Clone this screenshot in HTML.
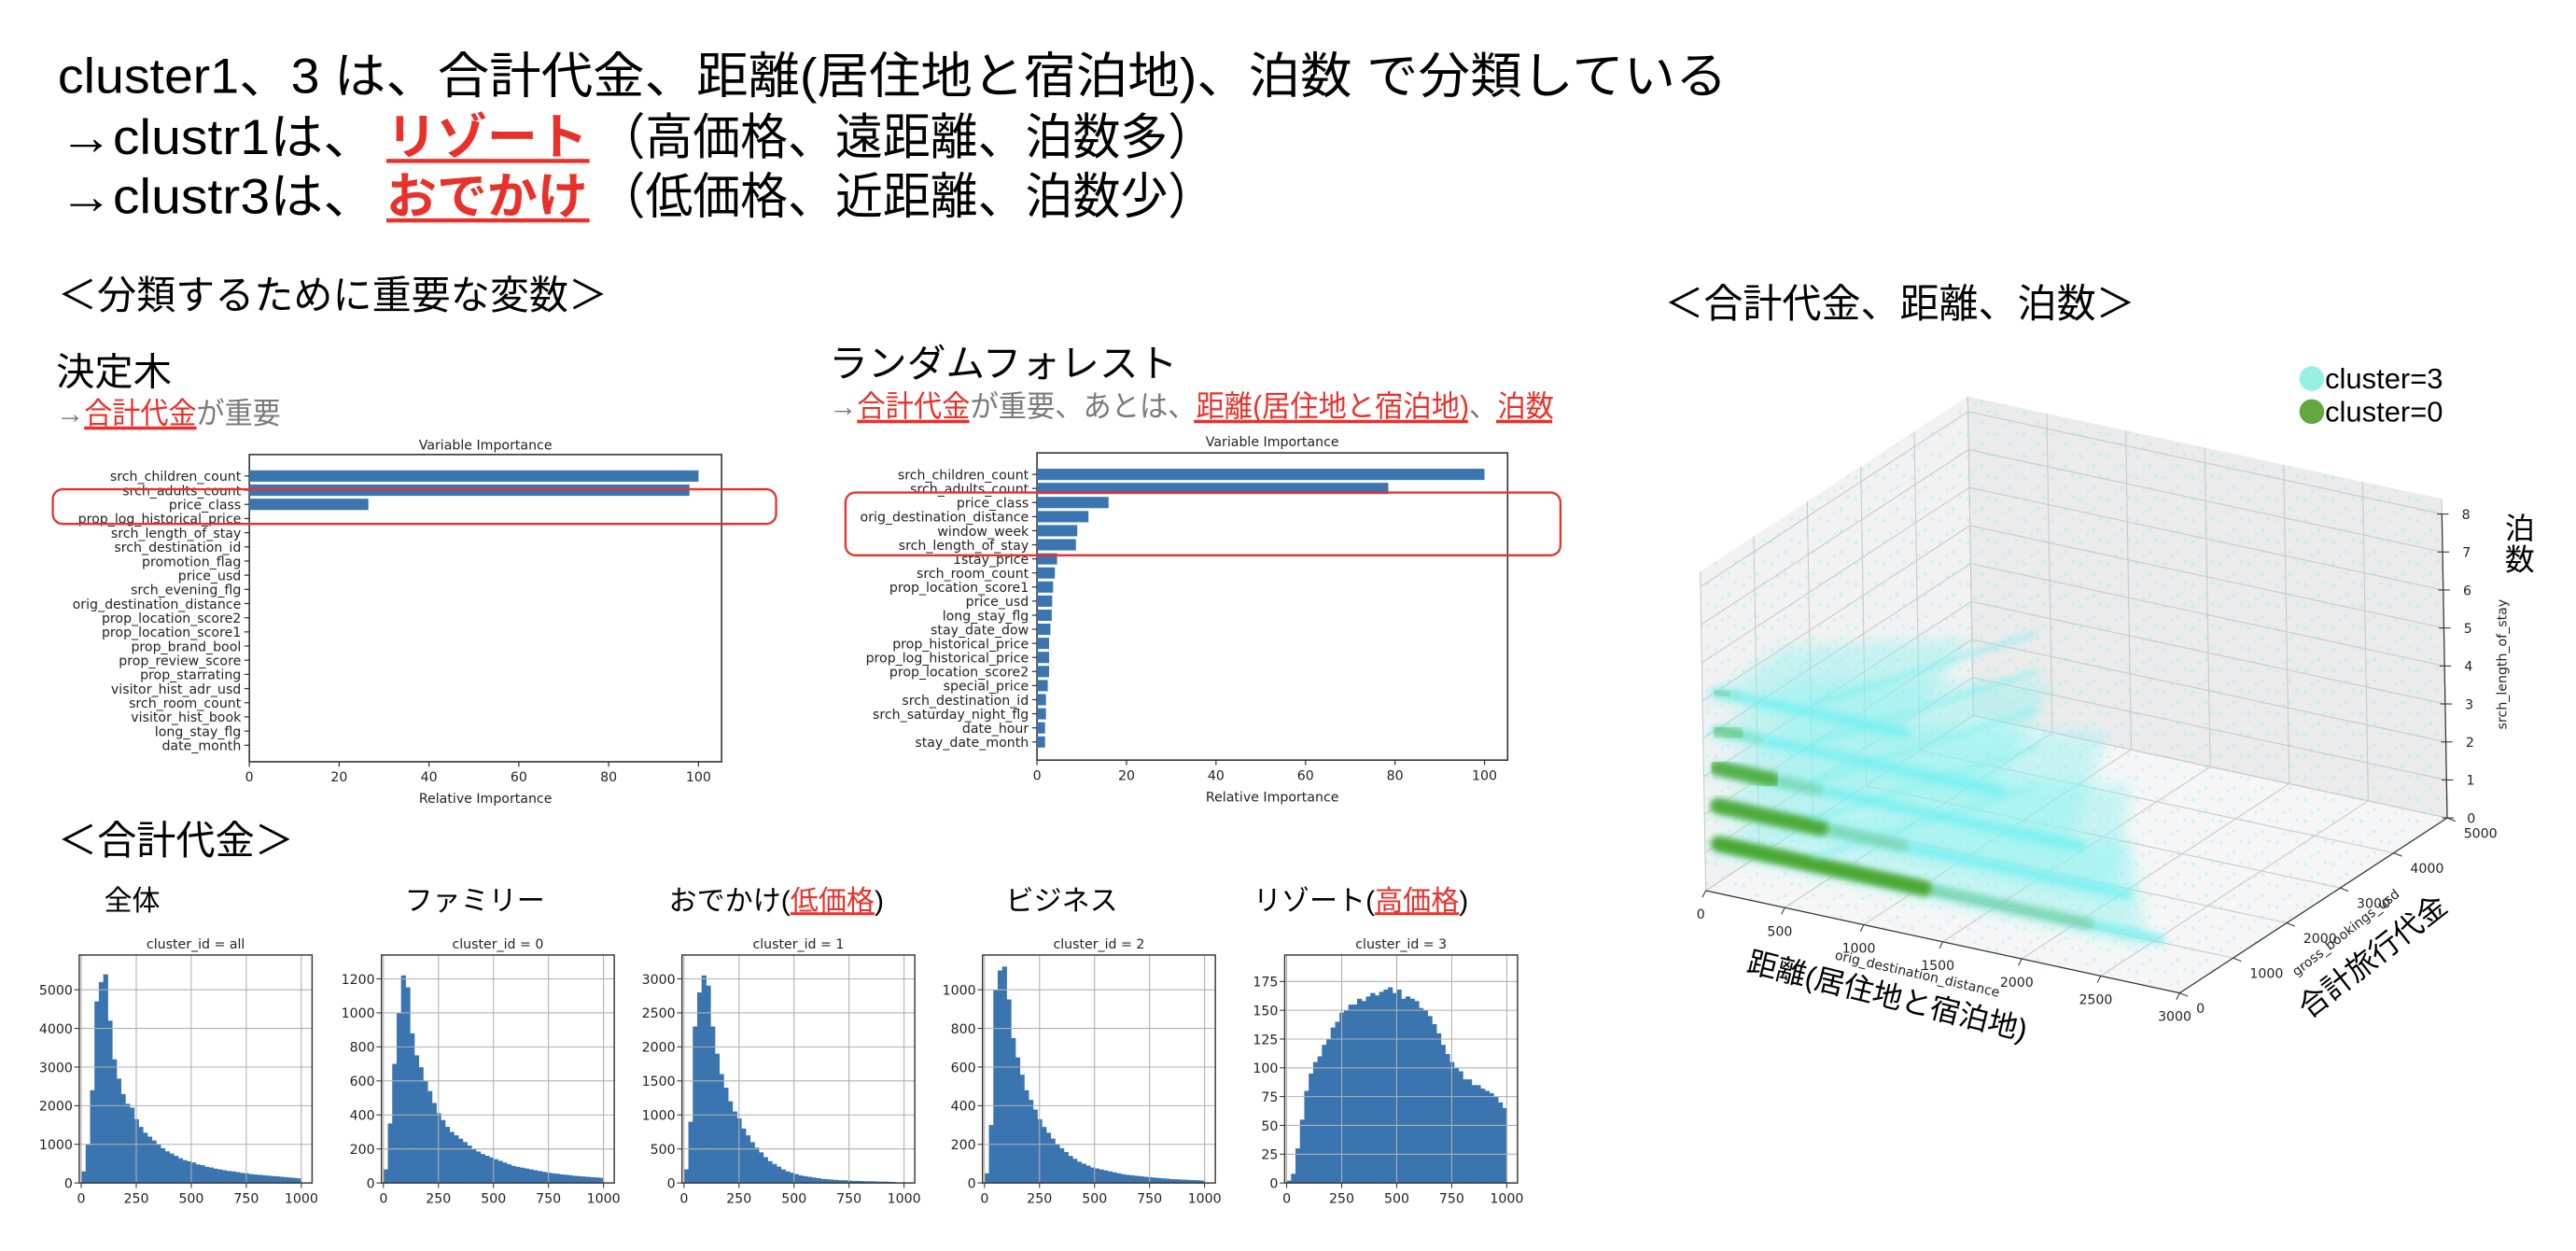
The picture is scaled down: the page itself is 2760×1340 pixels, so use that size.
<!DOCTYPE html>
<html><head><meta charset="utf-8">
<style>
html,body{margin:0;padding:0;background:#fff;}
svg{display:block;}
text{font-family:"Liberation Sans","Noto Sans CJK JP",sans-serif;}
.tk{font-family:"DejaVu Sans","Liberation Sans",sans-serif;font-size:8px;fill:#222;}
</style></head>
<body>
<svg id="root" xmlns="http://www.w3.org/2000/svg" width="2760" height="1340" viewBox="0 0 1560 757">
<defs>
<filter id="blur1" x="-10%" y="-50%" width="120%" height="200%"><feGaussianBlur stdDeviation="2"/></filter>
<filter id="blur2" x="-10%" y="-50%" width="120%" height="200%"><feGaussianBlur stdDeviation="4"/></filter>
<pattern id="dots" width="17" height="13" patternUnits="userSpaceOnUse">
<circle cx="2" cy="3" r="1.1" fill="#7ff0ee"/><circle cx="10" cy="9" r="1.1" fill="#7ff0ee"/><circle cx="14" cy="2" r="1" fill="#7ff0ee"/><circle cx="6" cy="11" r="0.9" fill="#7ff0ee"/>
</pattern>
</defs>
<g>
<text x="35" y="56" font-size="30" textLength="1011" lengthAdjust="spacingAndGlyphs">cluster1、3 は、合計代金、距離(居住地と宿泊地)、泊数 で分類している</text>
<text x="36" y="93" font-size="30" textLength="192" lengthAdjust="spacingAndGlyphs">→clustr1は、</text>
<text x="234" y="93" font-size="30" font-weight="bold" fill="#e8312a" textLength="122" lengthAdjust="spacingAndGlyphs">リゾート</text>
<rect x="234" y="96" width="123" height="2.5" fill="#e8312a"/>
<text x="362" y="93" font-size="30" textLength="374" lengthAdjust="spacingAndGlyphs">（高価格、遠距離、泊数多）</text>
<text x="36" y="129" font-size="30" textLength="192" lengthAdjust="spacingAndGlyphs">→clustr3は、</text>
<text x="234" y="129" font-size="30" font-weight="bold" fill="#e8312a" textLength="122" lengthAdjust="spacingAndGlyphs">おでかけ</text>
<rect x="234" y="132" width="123" height="2.5" fill="#e8312a"/>
<text x="362" y="129" font-size="30" textLength="374" lengthAdjust="spacingAndGlyphs">（低価格、近距離、泊数少）</text>
<text x="35" y="187" font-size="24" textLength="333" lengthAdjust="spacingAndGlyphs">＜分類するために重要な変数＞</text>
<text x="1008" y="192" font-size="24" textLength="285" lengthAdjust="spacingAndGlyphs">＜合計代金、距離、泊数＞</text>
<text x="34" y="233" font-size="23" textLength="70" lengthAdjust="spacingAndGlyphs">決定木</text>
<text x="34" y="256" font-size="18" fill="#7a7a7a" textLength="136" lengthAdjust="spacingAndGlyphs">→<tspan fill="#e8312a">合計代金</tspan>が重要</text>
<rect x="51" y="258" width="68" height="2" fill="#e8312a"/>
<text x="502" y="228" font-size="23" textLength="211" lengthAdjust="spacingAndGlyphs">ランダムフォレスト</text>
<text x="502" y="252" font-size="18" fill="#7a7a7a" textLength="439" lengthAdjust="spacingAndGlyphs">→<tspan fill="#e8312a">合計代金</tspan>が重要、あとは、<tspan fill="#e8312a">距離(居住地と宿泊地)</tspan>、<tspan fill="#e8312a">泊数</tspan></text>
<rect x="519" y="254" width="68" height="2" fill="#e8312a"/>
<rect x="723" y="254" width="166" height="2" fill="#e8312a"/>
<rect x="906" y="254" width="34" height="2" fill="#e8312a"/>
<text x="35" y="517" font-size="24" textLength="143" lengthAdjust="spacingAndGlyphs">＜合計代金＞</text>
</g>
<g id="dt"></g>
<g id="rf"></g>
<g id="hists"></g>
<g id="p3d"></g>
</svg>
<script>
const NS='http://www.w3.org/2000/svg';
function mk(parent,tag,attrs,txt){const e=document.createElementNS(NS,tag);for(const k in attrs)e.setAttribute(k,attrs[k]);if(txt!==undefined)e.textContent=txt;parent.appendChild(e);return e;}

// ---- Variable importance data ----
const dtLabels=['srch_children_count','srch_adults_count','price_class','prop_log_historical_price','srch_length_of_stay','srch_destination_id','promotion_flag','price_usd','srch_evening_flg','orig_destination_distance','prop_location_score2','prop_location_score1','prop_brand_bool','prop_review_score','prop_starrating','visitor_hist_adr_usd','srch_room_count','visitor_hist_book','long_stay_flg','date_month'];
const dtValues=[100,98,26.5,0,0,0,0,0,0,0,0,0,0,0,0,0,0,0,0,0];
const rfLabels=['srch_children_count','srch_adults_count','price_class','orig_destination_distance','window_week','srch_length_of_stay','1stay_price','srch_room_count','prop_location_score1','price_usd','long_stay_flg','stay_date_dow','prop_historical_price','prop_log_historical_price','prop_location_score2','special_price','srch_destination_id','srch_saturday_night_flg','date_hour','stay_date_month'];
const rfValues=[100,78.5,16,11.5,9,8.7,4.5,4,3.6,3.4,3.3,3,2.7,2.7,2.7,2.4,2,2,1.8,1.8];
const impTicks=[0,20,40,60,80,100];

function barh(g,name,labels,values,c){
  const sx=v=>c.v0+(c.v100-c.v0)*v/100;
  const sp=(c.rN-c.r1)/(labels.length-1);
  const t=mk(g,'text',{x:(c.x0+c.x1)/2,y:c.ty,'font-size':9.5,'text-anchor':'middle',class:'tk'},'Variable Importance');
  
  
  const fr=mk(g,'rect',{x:c.x0,y:c.y0,width:c.x1-c.x0,height:c.y1-c.y0,fill:'#fff',stroke:'#333','stroke-width':0.9});
  
  
  labels.forEach((l,i)=>{
    const y=c.r1+i*sp;
    if(values[i]>0){
      const b=mk(g,'rect',{x:sx(0),y:y-sp*0.4,width:sx(values[i])-sx(0),height:sp*0.8,fill:'#3a75b0'});
      
      
    }
    mk(g,'line',{x1:c.x0-3,x2:c.x0,y1:y,y2:y,stroke:'#333','stroke-width':0.7});
    const lt=mk(g,'text',{x:c.x0-5,y:y+3,'text-anchor':'end',class:'tk','font-size':8.3},l);
    
    
  });
  impTicks.forEach(v=>{
    mk(g,'line',{x1:sx(v),x2:sx(v),y1:c.y1,y2:c.y1+3,stroke:'#333','stroke-width':0.7});
    const tt=mk(g,'text',{x:sx(v),y:c.y1+12,'text-anchor':'middle',class:'tk','font-size':8.5},String(v));
    
    
  });
  const xl=mk(g,'text',{x:(c.x0+c.x1)/2,y:c.y1+25,'text-anchor':'middle',class:'tk','font-size':8.5},'Relative Importance');
  
  
  const hb=mk(g,'rect',{x:c.hx0,y:c.hy0,width:c.hx1-c.hx0,height:c.hy1-c.hy0,rx:6,fill:'none',stroke:'#e8312a','stroke-width':1.3});
  
  
}
barh(document.getElementById('dt'),'dt',dtLabels,dtValues,{x0:151,x1:437,y0:275,y1:461,v0:151,v100:423,r1:288,rN:451,ty:272,hx0:32,hx1:470,hy0:296,hy1:317});
barh(document.getElementById('rf'),'rf',rfLabels,rfValues,{x0:628,x1:913,y0:274,y1:460,v0:628,v100:899,r1:287,rN:449,ty:270,hx0:512,hx1:945,hy0:298,hy1:336});

// ---- Histogram data (bins of width 20, 0..1000) ----
const histNames=['all','0','1','2','3'];
const histSub=['全体','ファミリー','おでかけ(低価格)','ビジネス','リゾート(高価格)'];
const histAll=[300,1000,2400,4700,5200,5400,4200,3200,2700,2300,2050,1950,1650,1450,1300,1200,1100,1000,900,820,760,700,640,590,560,530,480,460,420,400,370,350,330,310,300,280,260,250,230,220,210,200,190,180,170,160,150,140,130,120];
const hist0=[80,350,700,1000,1220,1150,880,750,680,600,540,470,410,370,330,300,280,260,240,220,200,185,170,160,150,140,130,120,110,100,95,90,85,80,75,70,65,60,57,54,50,48,45,42,40,38,36,34,32,30];
const hist1=[200,900,2300,2800,3050,2900,2300,1900,1600,1400,1200,1050,950,800,700,600,520,450,380,320,280,240,200,170,150,130,110,100,90,80,70,60,55,50,45,40,40,35,30,30,28,25,25,22,20,20,18,15,0,0];
const hist2=[50,300,1000,1100,1120,950,750,650,560,480,430,380,330,290,260,230,200,180,160,140,125,110,100,90,80,75,70,65,60,55,50,45,42,40,37,35,32,30,28,26,24,22,20,19,18,17,16,15,14,12];
const hist3=[2,8,30,55,80,95,105,110,120,125,135,140,148,150,155,155,160,158,162,165,163,166,168,170,165,168,160,162,160,158,152,150,145,138,130,120,112,105,100,97,90,90,85,85,82,80,78,75,70,65];
const histYMax=[5900,1340,3350,1180,198];
const yTicksAll=[0,1000,2000,3000,4000,5000];
const yTicks0=[0,200,400,600,800,1000,1200];
const yTicks1=[0,500,1000,1500,2000,2500,3000];
const yTicks2=[0,200,400,600,800,1000];
const yTicks3=[0,25,50,75,100,125,150,175];
const histXTicks=[0,250,500,750,1000];
const binWidth=20;
const histSeries=[histAll,hist0,hist1,hist2,hist3];
const histYTicks=[yTicksAll,yTicks0,yTicks1,yTicks2,yTicks3];
const panelLefts=[48,231,413,595,778];
const subX=[63,245,405,609,759];
const hg=document.getElementById('hists');
histSeries.forEach((vals,p)=>{
  const L=panelLefts[p],R=L+141,T=578,B=716;
  const xmin=-9,xmax=1049;
  const sx=v=>L+(v-xmin)/(xmax-xmin)*(R-L);
  const sy=v=>B-v/histYMax[p]*(B-T);
  const g=mk(hg,'g',{});
  
  
  const st=mk(g,'text',{x:subX[p],y:551,'font-size':17},'');
  
  
  const s=histSub[p];const m=s.match(/^(.*)\((.*)\)$/);
  if(m){mk(st,'tspan',{},m[1]+'(');mk(st,'tspan',{fill:'#e8312a','text-decoration':'underline'},m[2]);mk(st,'tspan',{},')');}else{st.textContent=s;}
  const t=mk(g,'text',{x:(L+R)/2,y:T-4,'text-anchor':'middle',class:'tk','font-size':9.5},'cluster_id = '+histNames[p]);
  
  
  vals.forEach((v,i)=>{
    if(v<=0)return;
    const b=mk(g,'rect',{x:sx(i*binWidth),y:sy(v),width:sx((i+1)*binWidth)-sx(i*binWidth)+0.3,height:B-sy(v),fill:'#3a75b0'});
    
    
  });
  histXTicks.forEach(v=>{
    mk(g,'line',{x1:sx(v),x2:sx(v),y1:T,y2:B,stroke:'#b0b0b0','stroke-width':0.6});
    mk(g,'line',{x1:sx(v),x2:sx(v),y1:B,y2:B+3,stroke:'#333','stroke-width':0.6});
    const tt=mk(g,'text',{x:sx(v),y:B+12,'text-anchor':'middle',class:'tk','font-size':8.5},String(v));
    
    
  });
  histYTicks[p].forEach(v=>{
    mk(g,'line',{x1:L,x2:R,y1:sy(v),y2:sy(v),stroke:'#b0b0b0','stroke-width':0.6});
    mk(g,'line',{x1:L-3,x2:L,y1:sy(v),y2:sy(v),stroke:'#333','stroke-width':0.6});
    const tt=mk(g,'text',{x:L-4,y:sy(v)+3,'text-anchor':'end',class:'tk','font-size':8.5},String(v));
    
    
  });
  const fr=mk(g,'rect',{x:L,y:T,width:R-L,height:B-T,fill:'none',stroke:'#333','stroke-width':0.8});
  
  
});

// ---- 3D scatter (projected) ----
const distTicks=[0,500,1000,1500,2000,2500,3000];
const bookTicks=[0,1000,2000,3000,4000,5000];
const stayTicks=[0,1,2,3,4,5,6,7,8];
const layerZ=[1,2,3,4,5];
const layerGreenEnd=[1300,650,350,150,80];
const layerCyanEnd=[2800,2600,2300,1800,1200];
const layerSpread=[2200,2600,2800,2800,2600];
const layerGreenOpacity=[0.95,0.9,0.8,0.35,0.2];
const g3=document.getElementById('p3d');
function P(x,y,z){return [1033+x*287/3000+y*162/5000-z*0.4, 539+x*62/3000-y*106/5000-z*23];}
function poly(pts){return pts.map(p=>p.join(',')).join(' ');}
const zTop=8.4;
let e;
e=mk(g3,'polygon',{points:poly([P(0,0,0),P(0,5000,0),P(0,5000,zTop),P(0,0,zTop)]),fill:'#f2f2f2'});


e=mk(g3,'polygon',{points:poly([P(0,5000,0),P(3000,5000,0),P(3000,5000,zTop),P(0,5000,zTop)]),fill:'#ebebeb'});


e=mk(g3,'polygon',{points:poly([P(0,0,0),P(3000,0,0),P(3000,5000,0),P(0,5000,0)]),fill:'#f6f6f6'});


const gl={stroke:'#c8c8c8','stroke-width':0.6};
function ln(a,b,at){const q=Object.assign({x1:a[0],y1:a[1],x2:b[0],y2:b[1]},at);return mk(g3,'line',q);}
distTicks.forEach(v=>{ln(P(v,0,0),P(v,5000,0),gl);ln(P(v,5000,0),P(v,5000,zTop),gl);});
bookTicks.forEach(v=>{ln(P(0,v,0),P(3000,v,0),gl);ln(P(0,v,0),P(0,v,zTop),gl);});
stayTicks.forEach(v=>{ln(P(0,0,v),P(0,5000,v),gl);ln(P(0,5000,v),P(3000,5000,v),gl);});
// faint scattered cyan points over whole volume
e=mk(g3,'polygon',{points:poly([P(0,0,0),P(3000,0,0),P(3000,5000,0),P(3000,5000,zTop),P(0,5000,zTop),P(0,0,zTop)]),fill:'url(#dots)',opacity:0.32});


// scatter layers
layerZ.forEach((z,i)=>{
  e=mk(g3,'polygon',{points:poly([P(0,0,z),P(layerCyanEnd[i],0,z),P(layerCyanEnd[i]*0.7,layerSpread[i],z),P(0,layerSpread[i]*0.6,z)]),fill:'#8ff3f0',opacity:0.45,filter:'url(#blur2)'});
  
  
  const a=P(0,250,z),b=P(layerCyanEnd[i],250,z),c=P(layerGreenEnd[i],250,z),d=P(layerGreenEnd[i]*1.8,250,z);
  e=ln(a,b,{stroke:'#6ef0ee','stroke-width':6,opacity:0.7,filter:'url(#blur1)','stroke-linecap':'round'});
  
  
  e=ln(a,d,{stroke:'#7cc58a','stroke-width':7,opacity:0.6*layerGreenOpacity[i],filter:'url(#blur1)','stroke-linecap':'round'});
  
  
  e=ln(a,c,{stroke:'#4aa62a','stroke-width':9,opacity:layerGreenOpacity[i],filter:'url(#blur1)','stroke-linecap':'round'});
  
  
  e=ln(P(550,400,z),P(1100,3000,z),{stroke:'#6ef0ee','stroke-width':3,opacity:0.55,filter:'url(#blur1)'});
  
  
});
// axes lines and ticks
ln(P(0,0,0),P(3000,0,0),{stroke:'#333','stroke-width':0.7});
ln(P(3000,0,0),P(3000,5000,0),{stroke:'#333','stroke-width':0.7});
ln(P(3000,5000,0),P(3000,5000,8),{stroke:'#333','stroke-width':0.7});
distTicks.forEach(v=>{const p=P(v,0,0);ln(p,[p[0]-2,p[1]+4],{stroke:'#333','stroke-width':0.6});
  const t=mk(g3,'text',{x:p[0]-3,y:p[1]+17,'text-anchor':'middle',class:'tk','font-size':7.5},String(v));
  
  });
bookTicks.forEach(v=>{const p=P(3000,v,0);ln(p,[p[0]+5,p[1]+2],{stroke:'#333','stroke-width':0.6});
  const t=mk(g3,'text',{x:p[0]+10,y:p[1]+12,'text-anchor':'start',class:'tk','font-size':7.5},String(v));
  
  });
stayTicks.forEach(v=>{const p=P(3000,5000,v);ln([p[0]-3,p[1]],[p[0]+4,p[1]],{stroke:'#333','stroke-width':0.6});
  const t=mk(g3,'text',{x:p[0]+12,y:p[1]+3,'text-anchor':'start',class:'tk','font-size':7.5},String(v));
  
  });
</script>
<script>
const svg=document.getElementById('root');
function T(attrs,txt){const e=document.createElementNS('http://www.w3.org/2000/svg','text');for(const k in attrs)e.setAttribute(k,attrs[k]);e.textContent=txt;svg.appendChild(e);return e;}
let t;
t=T({x:1143,y:609,'font-size':18,'text-anchor':'middle',transform:'rotate(14 1143 603)'},'距離(居住地と宿泊地)');


t=T({x:1161,y:592,'font-size':6.5,'text-anchor':'middle',class:'tk',transform:'rotate(13 1161 590)'},'orig_destination_distance');


t=T({x:1437,y:585,'font-size':18,'text-anchor':'middle',transform:'rotate(-38 1437 579)'},'合計旅行代金');


t=T({x:1421,y:567,'font-size':6.5,'text-anchor':'middle',class:'tk',transform:'rotate(-38 1421 565)'},'gross_bookings_usd');


t=T({x:1516,y:404,'font-size':6.5,'text-anchor':'middle',class:'tk',transform:'rotate(-90 1516 402)'},'srch_length_of_stay');


t=T({x:1526,y:326,'font-size':18,'text-anchor':'middle'},'泊');


t=T({x:1526,y:345,'font-size':18,'text-anchor':'middle'},'数');


const lc=document.createElementNS('http://www.w3.org/2000/svg','circle');
lc.setAttribute('cx',1400);lc.setAttribute('cy',229);lc.setAttribute('r',7.5);lc.setAttribute('fill','#96f0e3');


svg.appendChild(lc);
const lc2=document.createElementNS('http://www.w3.org/2000/svg','circle');
lc2.setAttribute('cx',1400);lc2.setAttribute('cy',249);lc2.setAttribute('r',7.5);lc2.setAttribute('fill','#62a83c');


svg.appendChild(lc2);
t=T({x:1408,y:235,'font-size':17.5},'cluster=3');


t=T({x:1408,y:255,'font-size':17.5},'cluster=0');


</script>
</body></html>
